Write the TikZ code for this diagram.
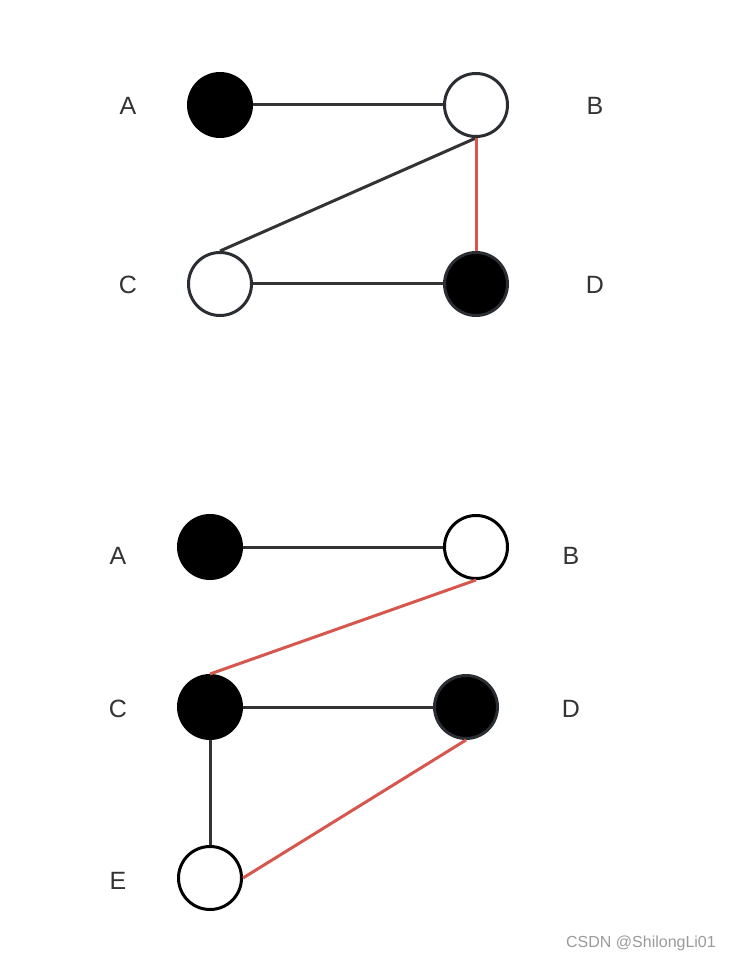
\documentclass[tikz,border=0pt]{standalone}
\usepackage{fontspec}
\setmainfont{Liberation Sans}
\usepackage{xcolor}
\usetikzlibrary{positioning}
\definecolor{edgegray}{HTML}{333333}
\definecolor{ringgray}{HTML}{2A2E33}
\definecolor{cutred}{HTML}{D6574E}
\definecolor{markgray}{HTML}{9A9A9A}

\begin{document}
\begin{tikzpicture}[x=0.5pt, y=-0.5pt,
  vtx/.style={circle, inner sep=0pt, minimum size=31.5pt, line width=1.5pt},
  wvtx/.style={vtx, draw=ringgray, fill=white},
  bvtx/.style={vtx, draw=black, fill=black},
  gvtx/.style={vtx, draw=ringgray, fill=black},
  lbl/.style={text=edgegray, font=\fontsize{12.5}{14}\selectfont},
  ln/.style={draw=edgegray, line width=1.5pt},
  cut/.style={draw=cutred, line width=1.5pt}
]
\useasboundingbox (0,0) rectangle (732,962);
% first graph
\node[bvtx] (a1) at (220,105) {};
\node[wvtx] (b1) at (476,105) {};
\node[wvtx] (c1) at (220,284) {};
\node[gvtx] (d1) at (476,284) {};
\node[lbl] (la1) at (128,106) {A};
\node[lbl] (lb1) at (595,106) {B};
\node[lbl] (lc1) at (128,285) {C};
\node[lbl] (ld1) at (595,285) {D};
\draw[ln] (a1) -- (b1);
\draw[ln] (b1.south) -- (c1.north);
\draw[ln] (c1) -- (d1);
\draw[cut] (b1) -- (d1);
% second graph
\node[bvtx] (a2) at (210,547) {};
\node[wvtx, draw=black] (b2) at (476,547) {};
\node[bvtx] (c2) at (210,707) {};
\node[gvtx] (d2) at (466,707) {};
\node[wvtx, draw=black] (e2) at (210,878) {};
\node[lbl] (la2) at (118,556) {A};
\node[lbl] (lb2) at (571,556) {B};
\node[lbl] (lc2) at (118,709) {C};
\node[lbl] (ld2) at (571,709) {D};
\node[lbl] (le2) at (118,881) {E};
\draw[ln] (a2) -- (b2);
\draw[ln] (c2) -- (d2);
\draw[ln] (c2) -- (e2);
\draw[cut] (b2.south) -- (c2.north);
\draw[cut] (d2.south) -- (e2.east);
\node[text=markgray, font=\fontsize{8}{9}\selectfont] (wm) at (641,943) {CSDN @ShilongLi01};
\end{tikzpicture}
\end{document}
